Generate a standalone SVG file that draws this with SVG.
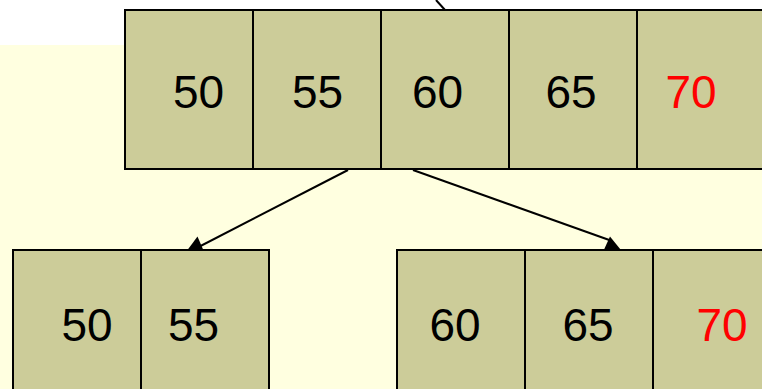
<svg xmlns="http://www.w3.org/2000/svg" width="762" height="389" viewBox="0 0 762 389">
  <defs>
    <style>
      .cell { fill: #CCCC99; stroke: #000; stroke-width: 2; }
      .num { font-family: "Liberation Sans", Arial, sans-serif; font-size: 46px; text-anchor: middle; fill: #000; }
      .red { fill: #FF0000; }
      .edge { stroke: #000; stroke-width: 2; fill: none; }
      .head { fill: #000; }
    </style>
  </defs>

  <!-- page background -->
  <rect x="0" y="0" width="762" height="389" fill="#FFFFFF"/>
  <rect x="0" y="45" width="762" height="344" fill="#FFFFE0"/>

  <!-- connectors (drawn beneath the nodes, so the arrow tips tuck under the boxes) -->
  <g id="connectors">
    <line class="edge" x1="436" y1="0" x2="445" y2="10"/>
    <path class="edge" d="M348,170 L187,253"/>
    <polygon class="head" points="183,256 197.5,236.5 205,254"/>
    <path class="edge" d="M413,170 L612,241"/>
    <polygon class="head" points="625,255 610,236.5 602,254"/>
  </g>

  <!-- root node: 50 55 60 65 70 -->
  <g id="node-root">
    <rect class="cell" x="125" y="10" width="128" height="159"/>
    <rect class="cell" x="253" y="10" width="128" height="159"/>
    <rect class="cell" x="381" y="10" width="128" height="159"/>
    <rect class="cell" x="509" y="10" width="128" height="159"/>
    <rect class="cell" x="637" y="10" width="128" height="159"/>
    <text class="num" x="198.5" y="108">50</text>
    <text class="num" x="317.5" y="108">55</text>
    <text class="num" x="437.5" y="108">60</text>
    <text class="num" x="571" y="108">65</text>
    <text class="num red" x="691" y="108">70</text>
  </g>

  <!-- left child: 50 55 -->
  <g id="node-left">
    <rect class="cell" x="13" y="250" width="128" height="150"/>
    <rect class="cell" x="141" y="250" width="128" height="150"/>
    <text class="num" x="87" y="341">50</text>
    <text class="num" x="193.5" y="341">55</text>
  </g>

  <!-- right child: 60 65 70 -->
  <g id="node-right">
    <rect class="cell" x="397" y="250" width="128" height="150"/>
    <rect class="cell" x="525" y="250" width="128" height="150"/>
    <rect class="cell" x="653" y="250" width="128" height="150"/>
    <text class="num" x="455" y="341">60</text>
    <text class="num" x="588" y="341">65</text>
    <text class="num red" x="722" y="341">70</text>
  </g>
</svg>
